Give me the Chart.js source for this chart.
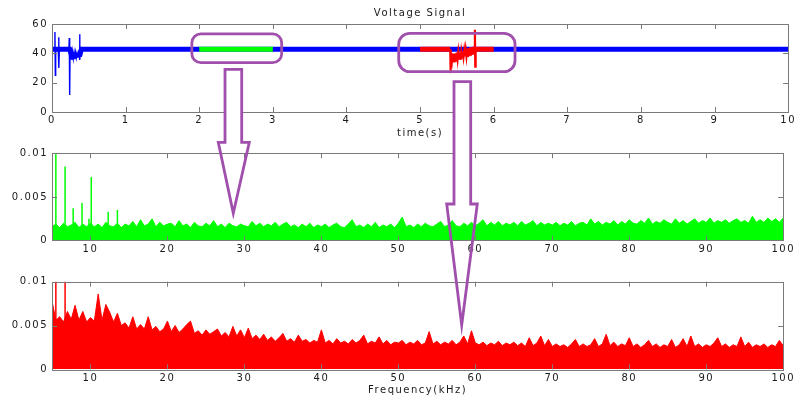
<!DOCTYPE html>
<html>
<head>
<meta charset="utf-8">
<script src="https://cdn.jsdelivr.net/npm/chart.js@4.4.1/dist/chart.umd.min.js"></script>
<style>
  html, body { margin: 0; padding: 0; background: #fff; }
  #wrap { position: relative; width: 798px; height: 401px; overflow: hidden; }
  #wrap canvas { position: absolute; left: 0; }
  #c1 { top: 0; }
  #c2 { top: 140px; }
  #c3 { top: 270px; }
  #overlay { top: 0; pointer-events: none; }
</style>
</head>
<body>
<div id="wrap">
  <canvas id="c1" width="798" height="140"></canvas>
  <canvas id="c2" width="798" height="130"></canvas>
  <canvas id="c3" width="798" height="131"></canvas>
  <canvas id="overlay" width="798" height="401"></canvas>
</div>
<script>
// ticks
const timeTicks = [0, 1, 2, 3, 4, 5, 6, 7, 8, 9, 10];
const voltTicks = [0, 20, 40, 60];
const freqTicks = [10, 20, 30, 40, 50, 60, 70, 80, 90, 100];
const ampTicks = [0, 0.005, 0.01];

// voltage signal (s, V)
const bandTime = [0, 0.24, 0.26, 0.3, 0.34, 0.38, 0.4, 10];
const bandVolt = [42.8, 42.8, 39.5, 39, 38.5, 39, 42.8, 42.8];
const startTime = [0, 0.035, 0.04, 0.045, 0.05, 0.085, 0.09, 0.095, 0.1, 0.23, 0.235, 0.24, 0.245, 0.25, 0.26, 0.27,
  0.28, 0.29, 0.30, 0.31, 0.32, 0.33, 0.34, 0.35, 0.36, 0.37, 0.375, 0.38, 0.385, 0.39, 0.4, 0.45];
const startVolt = [42.8, 42.8, 54.5, 25, 42.8, 42.8, 51, 30, 42.8, 42.8, 50.5, 11.6, 41, 36, 41.5, 35.5,
  41, 36.5, 40.5, 36, 40.5, 37, 40, 37.5, 40.5, 38, 53, 35.5, 43, 41.5, 42.8, 42.8];
const greenTime = [2, 3];
const greenVolt = [42.8, 42.8];
const redTime = [5, 5.41, 5.41, 5.76, 6];
const redVolt = [42.8, 42.8, null, 42.8, 42.8];
const redDipTime = [5.41, 5.412, 5.415, 5.42, 5.43, 5.44, 5.45, 5.46, 5.47, 5.48, 5.49, 5.50, 5.51, 5.52, 5.53, 5.54,
  5.55, 5.56, 5.57, 5.58, 5.59, 5.60, 5.61, 5.62, 5.63, 5.64, 5.65, 5.66, 5.67, 5.68, 5.69, 5.70, 5.71, 5.72,
  5.73, 5.74, 5.745, 5.75, 5.755, 5.76];
const redDipVolt = [42.8, 26.5, 41, 36, 33.5, 40, 34.5, 39.5, 34, 40, 35, 40.5, 36, 41, 36.5, 40.5,
  35.5, 41, 37, 41.5, 37.5, 42, 38, 42.5, 38, 43, 37.5, 43.5, 38, 44, 38.5, 44, 39, 44.5,
  39.5, 44, 56, 31, 43, 42.8];

// spectra, bins every 0.5 kHz from 5 kHz, amplitudes x1e-3
const freqStart = 5, freqStep = 0.5;
const greenAmp = [
  1.6, 1.9, 1.5, 2.0, 1.6, 1.8, 2.1, 1.5, 1.9, 1.6,
  2.0, 1.6, 1.9, 1.5, 2.1, 1.7, 1.6, 2.0, 1.5, 1.9,
  1.7, 2.2, 1.6, 2.4, 1.7, 1.9, 2.5, 1.6, 2.1, 1.7,
  1.9, 2.0, 1.6, 2.3, 1.7, 1.9, 1.5, 2.1, 1.7, 1.6,
  2.0, 1.7, 2.3, 1.6, 1.9, 1.5, 2.0, 1.7, 1.6, 1.9,
  1.7, 1.6, 2.2, 1.7, 2.0, 1.6, 1.9, 1.7, 2.1, 1.6,
  1.9, 2.1, 1.6, 1.8, 1.5, 1.9, 1.6, 2.0, 1.5, 1.8,
  1.6, 1.9, 1.5, 1.8, 2.0, 1.6, 1.5, 1.9, 2.4, 1.6,
  1.8, 1.5, 1.9, 1.6, 2.1, 1.5, 1.8, 1.6, 1.9, 1.5,
  2.0, 2.7, 1.6, 1.8, 1.5, 1.9, 1.6, 2.0, 1.7, 1.6,
  1.9, 2.2, 1.6, 1.8, 2.3, 1.7, 1.6, 2.0, 1.7, 2.1,
  1.7, 2.0, 2.4, 1.7, 2.1, 1.8, 2.2, 1.7, 2.0, 1.8,
  2.1, 1.7, 2.2, 1.8, 2.0, 2.3, 1.7, 2.1, 1.8, 2.0,
  1.8, 2.1, 1.7, 2.0, 1.8, 2.2, 1.7, 2.0, 2.1, 1.8,
  2.5, 1.9, 2.2, 1.8, 2.1, 1.9, 2.3, 1.8, 2.2, 1.9,
  2.4, 2.0, 1.9, 2.3, 2.0, 2.6, 1.9, 2.2, 2.0, 2.4,
  2.1, 1.9, 2.5, 2.0, 2.3, 1.9, 2.2, 2.5, 2.0, 2.3,
  2.1, 2.6, 2.0, 2.3, 2.1, 2.4, 2.0, 2.3, 2.5, 2.1,
  2.3, 2.0, 2.8, 2.1, 2.4, 2.1, 2.6, 2.2, 2.5, 2.1,
  2.6
];
const greenSpikeFreq = [5.5, 6.7, 7.75, 8.9, 9.8, 10.1, 12.3, 13.5];
const greenSpikeAmp = [10.5, 8.5, 3.7, 4.3, 2.5, 7.3, 3.3, 3.5];

const redAmp = [
  7.8, 5.6, 6.0, 5.4, 6.6, 5.7, 7.3, 5.6, 6.6, 5.4,
  5.9, 5.5, 8.6, 5.6, 7.4, 6.5, 5.4, 6.4, 5.0, 5.3,
  4.7, 6.0, 4.6, 5.1, 4.6, 6.0, 4.5, 4.9, 4.3, 4.6,
  5.5, 4.3, 5.0, 4.2, 4.6, 5.1, 5.5, 4.1, 4.4, 3.9,
  4.5, 4.0, 4.3, 4.6, 3.8, 4.2, 3.7, 4.9, 3.8, 4.5,
  3.6, 4.7, 3.5, 3.9, 3.4, 4.0, 3.3, 3.7, 3.2, 3.6,
  4.1, 3.2, 3.5, 3.1, 3.9, 3.2, 3.4, 3.0, 3.3, 3.1,
  4.5, 3.0, 3.3, 2.9, 3.5, 3.0, 3.2, 2.9, 3.4, 3.0,
  3.3, 3.9, 2.9, 3.2, 3.0, 3.7, 2.9, 3.3, 2.8, 3.1,
  3.0, 3.3, 2.8, 3.1, 2.9, 3.3, 2.8, 3.0, 4.3, 2.9,
  3.2, 2.8, 3.1, 2.9, 3.3, 2.8, 3.1, 3.8, 2.9, 4.4,
  3.0, 2.8, 3.1, 2.7, 3.0, 2.8, 3.2, 2.7, 3.0, 2.8,
  3.1, 2.7, 3.0, 2.6, 3.6, 2.7, 3.0, 3.8, 2.7, 3.4,
  2.6, 2.9, 2.6, 2.8, 2.5, 2.9, 3.4, 2.6, 2.9, 2.6,
  2.8, 3.5, 2.6, 2.9, 4.0, 2.7, 3.1, 2.6, 2.9, 2.7,
  3.6, 2.6, 2.9, 2.5, 2.8, 3.3, 2.6, 2.9, 2.5, 2.8,
  2.6, 3.4, 2.5, 2.8, 3.5, 2.6, 3.8, 2.6, 2.9, 2.5,
  2.8, 2.6, 3.0, 3.6, 2.6, 2.9, 2.5, 2.8, 2.6, 3.7,
  2.6, 3.1, 2.5, 2.8, 2.6, 2.9, 2.5, 2.8, 2.6, 3.3,
  2.7
];
const redSpikeFreq = [5.5, 6.7];
const redSpikeAmp = [10.5, 10.5];

const BLUE = '#0000ff', GREEN = '#00ff00', RED = '#ff0000';
const AXIS = '#7a7a7a', TEXT = '#1a1a1a', PURPLE = '#a04fac';
const FONT = { family: 'DejaVu Sans', size: 10, weight: 'normal' };
const SPACING = '1.5px';

const pts = (xs, ys) => xs.map((x, i) => ({ x: x, y: ys[i] }));
const spectrum = amps => amps.map((a, i) => ({ x: freqStart + i * freqStep, y: a / 1000 }));
const spikes = (fs, as) => {
  const out = [];
  fs.forEach((f, i) => { out.push({ x: f, y: 0 }, { x: f, y: as[i] / 1000 }, { x: f, y: null }); });
  return out;
};

// MATLAB-like box with inward ticks
const matlabBox = {
  id: 'matlabBox',
  beforeLayout(chart) { chart.ctx.letterSpacing = SPACING; },
  beforeDraw(chart) { chart.ctx.letterSpacing = SPACING; },
  afterDraw(chart) {
    const { ctx, chartArea: a, scales: { x, y } } = chart;
    ctx.save();
    ctx.strokeStyle = AXIS;
    ctx.lineWidth = 1;
    ctx.strokeRect(Math.round(a.left) + 0.5, Math.round(a.top) + 0.5,
      Math.round(a.right - a.left), Math.round(a.bottom - a.top));
    ctx.beginPath();
    x.ticks.forEach(t => {
      const px = Math.round(x.getPixelForValue(t.value)) + 0.5;
      if (px <= a.left + 2 || px >= a.right - 2) return;
      ctx.moveTo(px, a.bottom); ctx.lineTo(px, a.bottom - 5);
      ctx.moveTo(px, a.top); ctx.lineTo(px, a.top + 5);
    });
    y.ticks.forEach(t => {
      const py = Math.round(y.getPixelForValue(t.value)) + 0.5;
      if (py <= a.top + 2 || py >= a.bottom - 2) return;
      ctx.moveTo(a.left, py); ctx.lineTo(a.left + 5, py);
      ctx.moveTo(a.right, py); ctx.lineTo(a.right - 5, py);
    });
    ctx.stroke();
    ctx.restore();
  }
};

function panel(id, datasets, o) {
  return new Chart(document.getElementById(id), {
    type: 'line',
    data: { datasets: datasets },
    plugins: [matlabBox],
    options: {
      responsive: false,
      animation: false,
      devicePixelRatio: 1,
      layout: { padding: { left: 0, right: 7, top: o.padTop, bottom: 0 } },
      elements: { point: { radius: 0 }, line: { tension: 0 } },
      plugins: {
        legend: { display: false },
        tooltip: { enabled: false },
        title: o.title ? {
          display: true, text: o.title, fullSize: false, color: TEXT, font: FONT,
          padding: { top: 7, bottom: 5 }
        } : { display: false }
      },
      scales: {
        x: {
          type: 'linear', min: o.xMin, max: o.xMax,
          afterBuildTicks: s => { s.ticks = o.xTicks.map(v => ({ value: v })); },
          afterFit: s => { s.height = o.xHeight; },
          grid: { display: false, drawTicks: false },
          border: { display: false },
          ticks: { color: TEXT, font: FONT, padding: o.xPad, maxRotation: 0, autoSkip: false },
          title: o.xTitle ? {
            display: true, text: o.xTitle, color: TEXT, font: FONT,
            padding: { top: 0, bottom: o.xTitleBottom }
          } : { display: false }
        },
        y: {
          type: 'linear', min: o.yMin, max: o.yMax,
          afterBuildTicks: s => { s.ticks = o.yTicks.map(v => ({ value: v })); },
          afterFit: s => { s.width = 52; },
          grid: { display: false, drawTicks: false },
          border: { display: false },
          ticks: { color: TEXT, font: FONT, padding: 4, callback: v => String(v) }
        }
      }
    }
  });
}

const chart1 = panel('c1', [
  { data: pts(redDipTime, redDipVolt), borderColor: RED, borderWidth: 2.2 },
  { data: pts(redTime, redVolt), borderColor: RED, borderWidth: 5 },
  { data: pts(greenTime, greenVolt), borderColor: GREEN, borderWidth: 5 },
  { data: pts(startTime, startVolt), borderColor: BLUE, borderWidth: 1.4 },
  { data: pts(bandTime, bandVolt), borderColor: BLUE, borderWidth: 5 }
], {
  padTop: 0, title: 'Voltage Signal', xMin: 0, xMax: 10, xTicks: timeTicks, xHeight: 28, xPad: 2,
  xTitle: 'time(s)', xTitleBottom: 1, yMin: 0, yMax: 60, yTicks: voltTicks
});

const chart2 = panel('c2', [
  { data: spikes(greenSpikeFreq, greenSpikeAmp), borderColor: GREEN, borderWidth: 1.5 },
  { data: spectrum(greenAmp), borderColor: GREEN, backgroundColor: GREEN, borderWidth: 1, fill: 'origin' }
], {
  padTop: 13.3, xMin: 5, xMax: 100, xTicks: freqTicks, xHeight: 29.3, xPad: 3,
  yMin: 0, yMax: 0.01, yTicks: ampTicks
});

const chart3 = panel('c3', [
  { data: spikes(redSpikeFreq, redSpikeAmp), borderColor: RED, borderWidth: 1.5 },
  { data: spectrum(redAmp), borderColor: RED, backgroundColor: RED, borderWidth: 1, fill: 'origin' }
], {
  padTop: 11.7, xMin: 5, xMax: 100, xTicks: freqTicks, xHeight: 31.7, xPad: 3,
  xTitle: 'Frequency(kHz)', xTitleBottom: 5, yMin: 0, yMax: 0.01, yTicks: ampTicks
});

// purple call-outs: rounded boxes on the time axis, arrows down to the spectra
const ov = document.getElementById('overlay').getContext('2d');
ov.strokeStyle = PURPLE;
ov.lineWidth = 2.8;
ov.lineJoin = 'miter';
const sx = chart1.scales.x, sy = chart1.scales.y;
function callBox(t0, t1, v0, v1, r) {
  const x0 = sx.getPixelForValue(t0), x1 = sx.getPixelForValue(t1);
  const y0 = sy.getPixelForValue(v0), y1 = sy.getPixelForValue(v1);
  ov.beginPath();
  ov.roundRect(x0, y0, x1 - x0, y1 - y0, r);
  ov.stroke();
}
callBox(1.9, 3.12, 53.2, 33.6, 9);
callBox(4.71, 6.29, 53.6, 27.5, 11);

function arrow(l, r, top, neck, wl, wr, tipX, tipY) {
  ov.fillStyle = '#ffffff';
  ov.fillRect(l, top, r - l, neck - top);
  ov.beginPath();
  ov.moveTo(l, top); ov.lineTo(r, top); ov.lineTo(r, neck); ov.lineTo(wr, neck);
  ov.lineTo(tipX, tipY); ov.lineTo(wl, neck); ov.lineTo(l, neck); ov.closePath();
  ov.stroke();
}
arrow(225, 241.7, 69.3, 142.3, 218.3, 249.3, 233.3, 213.3);
arrow(454, 470.7, 81.7, 204, 446.7, 477.3, 461.7, 325);
</script>
</body>
</html>
